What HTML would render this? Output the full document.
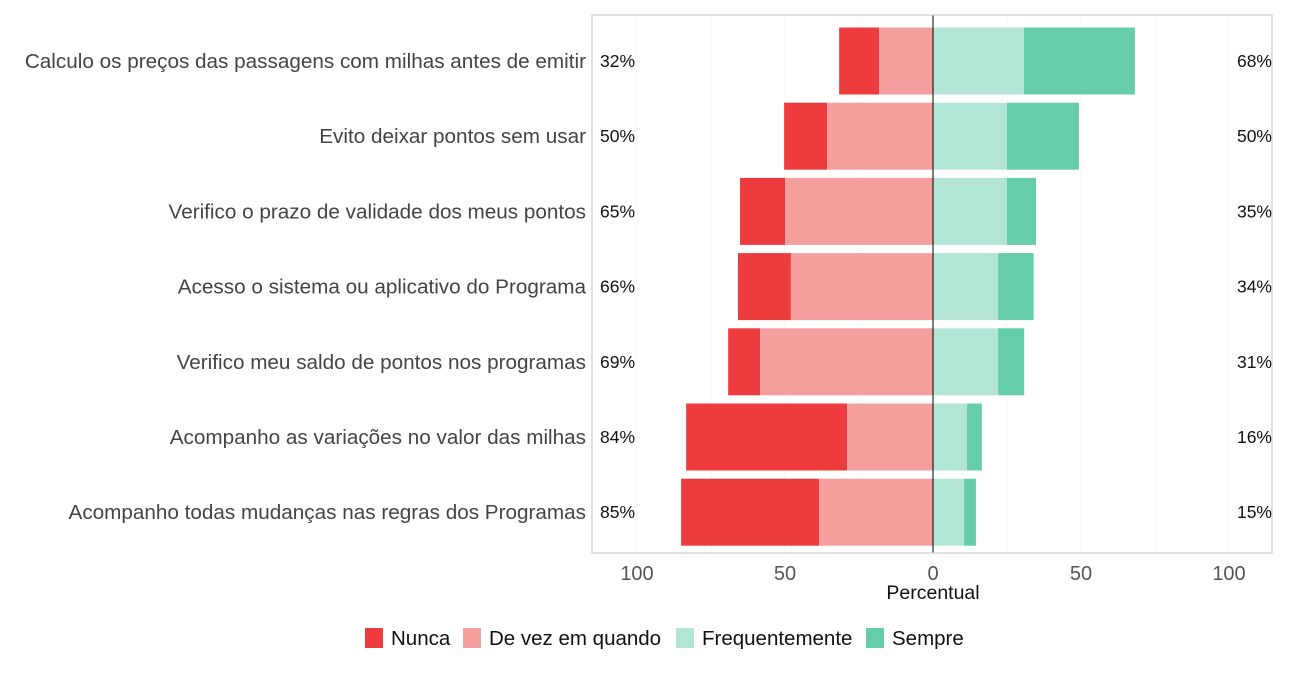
<!DOCTYPE html>
<html><head><meta charset="utf-8"><style>
body{margin:0;background:#fff;font-family:"Liberation Sans",sans-serif;}
svg text{font-family:"Liberation Sans",sans-serif;}
</style></head><body>
<svg id="chart" width="1298" height="688" xmlns="http://www.w3.org/2000/svg"></svg>
<script>
const categories=["Calculo os preços das passagens com milhas antes de emitir","Evito deixar pontos sem usar","Verifico o prazo de validade dos meus pontos","Acesso o sistema ou aplicativo do Programa","Verifico meu saldo de pontos nos programas","Acompanho as variações no valor das milhas","Acompanho todas mudanças nas regras dos Programas"];
const nunca=[13.5,14.5,15.2,17.9,10.8,54.4,46.6];
const deVez=[18.2,35.8,50,48,58.4,29,38.5];
const freq=[30.7,25,25,22,22,11.5,10.5];
const sempre=[37.5,24.3,9.8,12,8.8,5,4];
const leftLabels=["32%","50%","65%","66%","69%","84%","85%"];
const rightLabels=["68%","50%","35%","34%","31%","16%","15%"];
const ticks=[-100,-50,0,50,100];
const minorTicks=[-75,-25,25,75];
const colors={nunca:"#ee3c3e",deVez:"#f49e9e",freq:"#b2e5d5",sempre:"#66cdab"};
const NS="http://www.w3.org/2000/svg";
const svg=document.getElementById('chart');
const L=592,R=1272,T=15,B=553;
function x(v){return 933+v*2.96;}
function y(i){return 61+i*75.2;}
const bh=67;
function el(t,a,p){const e=document.createElementNS(NS,t);for(const k in a)e.setAttribute(k,a[k]);(p||svg).appendChild(e);return e;}
const g=el('g',{});


minorTicks.concat(ticks).forEach(v=>{const l=el('line',{x1:x(v),x2:x(v),y1:T,y2:B,stroke:"#f7f7f7","stroke-width":1},g);

});
categories.forEach((c,i)=>{
  const segs=[[-(nunca[i]+deVez[i]),nunca[i],colors.nunca,'bar-nunca'],[-deVez[i],deVez[i],colors.deVez,'bar-de-vez'],[0,freq[i],colors.freq,'bar-frequentemente'],[freq[i],sempre[i],colors.sempre,'bar-sempre']];
  segs.forEach(s=>{const r=el('rect',{x:x(s[0]),y:y(i)-bh/2,width:s[1]*2.96,height:bh,fill:s[2]},g);
  
  });
  const t1=el('text',{x:600,y:y(i)+6,"font-size":17.5,fill:"#111"},g);t1.textContent=leftLabels[i];
  
  
  const t2=el('text',{x:1272,y:y(i)+6,"font-size":17.5,fill:"#111","text-anchor":"end"},g);t2.textContent=rightLabels[i];
  
  
  const t3=el('text',{x:586,y:y(i)+7,"font-size":20.7,fill:"#444","text-anchor":"end"});t3.textContent=c;
  
  
});
const z=el('line',{x1:x(0),x2:x(0),y1:T,y2:B,stroke:"#000","stroke-width":1},g);


const fr=el('rect',{x:L,y:T,width:R-L,height:B-T,fill:"none",stroke:"#d0d0d0","stroke-width":1.3},g);


ticks.forEach(v=>{const t=el('text',{x:x(v),y:580,"font-size":20,fill:"#555","text-anchor":"middle"});t.textContent=Math.abs(v);

});
const xt=el('text',{x:933,y:599,"font-size":19.5,fill:"#111","text-anchor":"middle"});xt.textContent="Percentual";


const leg=[["Nunca",colors.nunca,365],["De vez em quando",colors.deVez,463],["Frequentemente",colors.freq,676],["Sempre",colors.sempre,866]];
leg.forEach(l=>{const r=el('rect',{x:l[2],y:628,width:18,height:20,fill:l[1]});


const t=el('text',{x:l[2]+26,y:645,"font-size":20.5,fill:"#111"});t.textContent=l[0];

});
</script>
</body></html>
